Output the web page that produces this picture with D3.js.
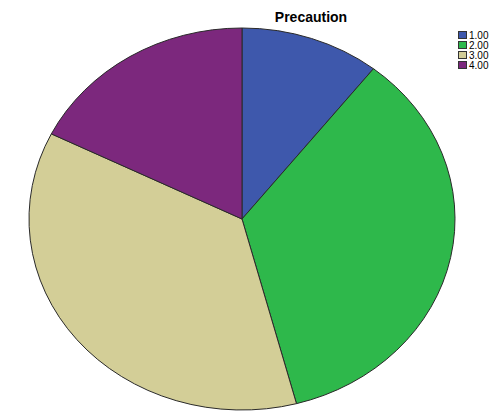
<!DOCTYPE html>
<html>
<head>
<meta charset="utf-8">
<script src="https://cdn.jsdelivr.net/npm/d3@7/dist/d3.min.js"></script>
<style>
  html, body { margin: 0; padding: 0; background: #fff; }
  svg { display: block; }
</style>
</head>
<body>
<svg id="chart" width="498" height="411"></svg>
<script>
// Precaution categories and their counts
const categories = ["1.00", "2.00", "3.00", "4.00"];
const counts = [9, 30, 31, 15];
const colors = ["#3e58ac", "#2eb84b", "#d3ce97", "#7c287d"];
const title = "Precaution";

const svg = d3.select("#chart");

const cx = 242, cy = 219, rx = 213, ry = 191;

const data = categories.map((c, i) => ({ cat: c, value: counts[i], color: colors[i] }));

const pie = d3.pie().sort(null).value(d => d.value);
const arc = d3.arc().innerRadius(0).outerRadius(rx);

// draw as a circle, then squash vertically into the ellipse
const g = svg.append("g")
  .attr("transform", `translate(${cx},${cy}) scale(1,${ry / rx})`);

g.selectAll("path")
  .data(pie(data))
  .join("path")
  .attr("d", arc)
  .attr("fill", d => d.data.color)
  .attr("stroke", "#2a2a2a")
  .attr("stroke-width", 1)
  .attr("vector-effect", "non-scaling-stroke")
  .attr("stroke-linejoin", "round");

// title
svg.append("text")
  .attr("x", 311)
  .attr("y", 22)
  .attr("text-anchor", "middle")
  .attr("font-family", "Liberation Sans, Arial, sans-serif")
  .attr("font-weight", "bold")
  .attr("font-size", 14)
  .attr("fill", "#000")
  .text(title);

// legend
const legend = svg.append("g").attr("transform", "translate(458,31)");
const rows = legend.selectAll("g")
  .data(data)
  .join("g")
  .attr("transform", (d, i) => `translate(0,${i * 10})`);

rows.append("rect")
  .attr("x", 0.5).attr("y", 0.5)
  .attr("width", 8).attr("height", 7)
  .attr("fill", d => d.color)
  .attr("stroke", "#333")
  .attr("stroke-width", 1);

rows.append("text")
  .attr("x", 11)
  .attr("y", 8)
  .attr("font-family", "Liberation Sans, Arial, sans-serif")
  .attr("font-size", 10)
  .attr("fill", "#000")
  .text(d => d.cat);
</script>
</body>
</html>
